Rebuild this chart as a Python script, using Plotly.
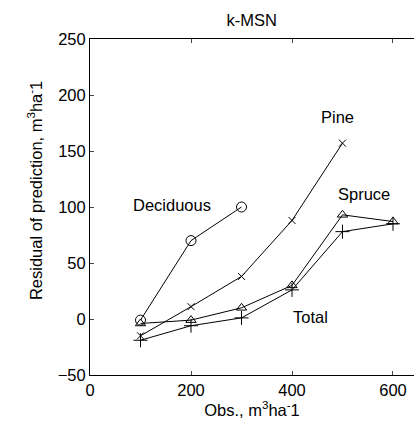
import plotly.graph_objects as go

# Residuals of k-MSN volume prediction by observed volume class
obs = [100, 200, 300, 400, 500, 600]
deciduous = [-1, 70, 100]
pine = [-15, 11, 38, 88, 157]
spruce = [-4, -1, 10, 30, 93, 87]
total = [-19, -6, 1, 26, 78, 85]

x_ticks = [0, 200, 400, 600]
y_ticks = [-50, 0, 50, 100, 150, 200, 250]

series = [
    ("Deciduous", deciduous, "circle-open", 10),
    ("Pine", pine, "x-thin-open", 7),
    ("Spruce", spruce, "triangle-up-open", 9),
    ("Total", total, "cross-thin-open", 10),
]

# Text labels placed next to each curve (data coordinates)
labels = [
    ("Deciduous", 163, 102),
    ("Pine", 491, 180),
    ("Spruce", 543, 112),
    ("Total", 436, 2),
]

FS = 16.5
font = dict(family="Liberation Sans, Arial, sans-serif", size=FS, color="black")

fig = go.Figure()
for name, vals, sym, size in series:
    fig.add_trace(go.Scatter(
        x=obs[:len(vals)], y=vals, mode="lines+markers", name=name,
        line=dict(color="black", width=1),
        marker=dict(symbol=sym, size=size, color="black",
                    line=dict(color="black", width=1)),
        cliponaxis=False,
    ))

for text, lx, ly in labels:
    fig.add_annotation(x=lx, y=ly, text=text, showarrow=False, font=font)

# Vertical axis title, set slightly above the axis centre
fig.add_annotation(
    x=-0.17, y=0.55, xref="paper", yref="paper", showarrow=False,
    text="Residual of prediction, m<sup>3</sup>ha<sup>-</sup>1",
    textangle=-90, xanchor="center", yanchor="middle", font=font,
)

fig.update_layout(
    width=414, height=426,
    margin=dict(l=90, r=0, t=39, b=51),
    paper_bgcolor="white", plot_bgcolor="white",
    showlegend=False,
    font=font,
    title=dict(text="k-MSN", x=0.608, xanchor="center", y=0.953,
               yanchor="middle", font=font),
    xaxis=dict(
        range=[0, 641.6], tickvals=x_ticks, ticks="inside", ticklen=4,
        showline=True, linecolor="black", linewidth=1, mirror="ticks",
        showgrid=False, zeroline=False, tickfont=font,
        title=dict(text="Obs., m<sup>3</sup>ha<sup>-</sup>1", standoff=4,
                   font=font),
    ),
    yaxis=dict(
        range=[-50, 250], tickvals=y_ticks, ticks="inside", ticklen=4,
        showline=True, linecolor="black", linewidth=1,
        showgrid=False, zeroline=False, tickfont=font,
    ),
)

fig.write_html("out.html")
